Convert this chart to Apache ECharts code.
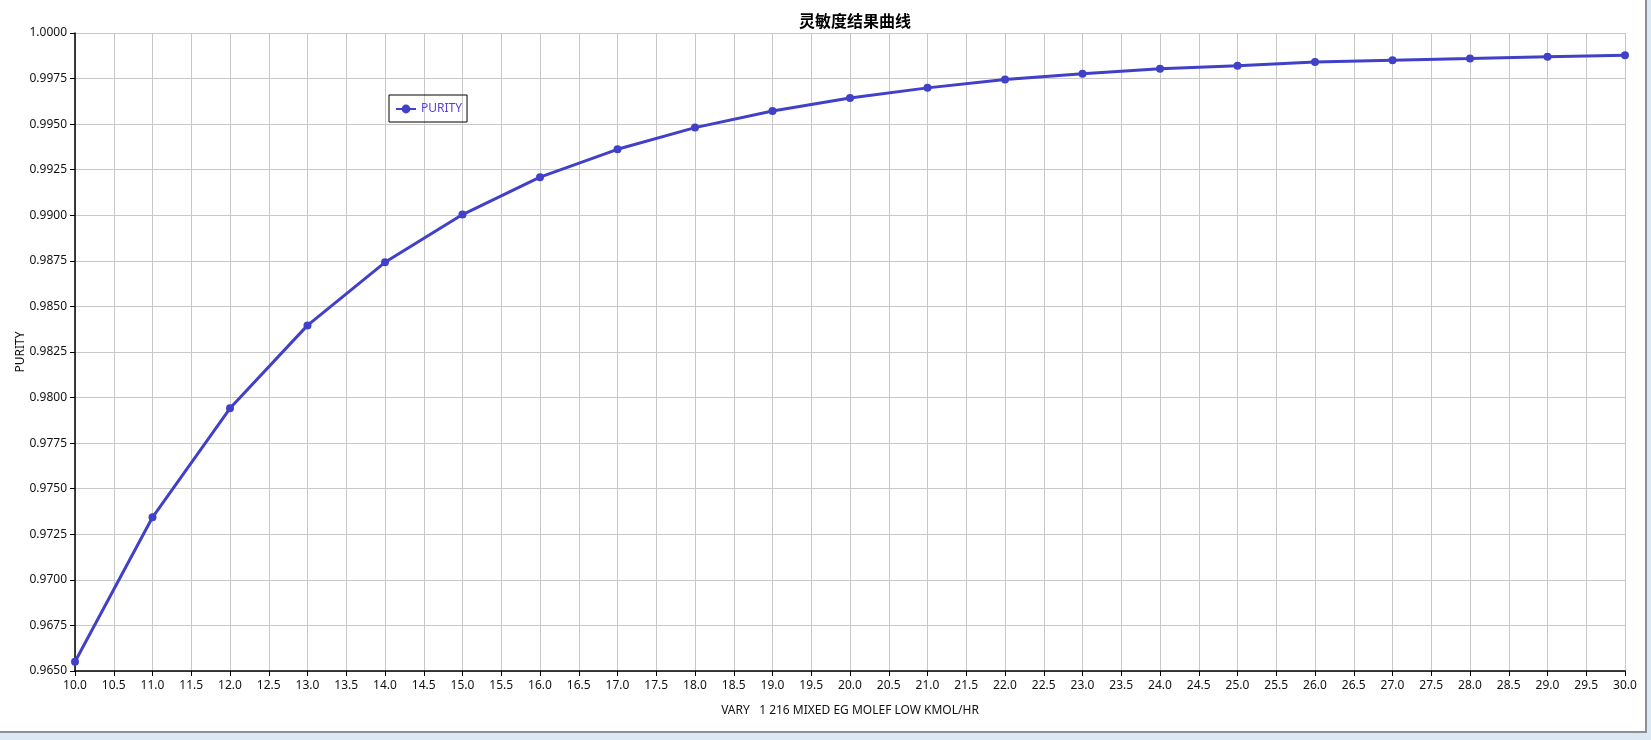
<!DOCTYPE html>
<html><head><meta charset="utf-8">
<script src="https://cdn.jsdelivr.net/npm/echarts@6/dist/echarts.min.js"></script>
<style>
html,body{margin:0;padding:0;background:#dce8f4;}
#wrap{width:1645px;height:731px;background:#fff;border-right:2px solid #8a9096;border-bottom:2px solid #8a9096;}
#c{width:1645px;height:731px;}
</style></head><body>
<div id="wrap"><div id="c"></div></div>
<script>
const title = '灵敏度结果曲线';
const seriesName = 'PURITY';
const xAxisName = 'VARY   1 216 MIXED EG MOLEF LOW KMOL/HR';
const yAxisName = 'PURITY';
const xValues = [10,11,12,13,14,15,16,17,18,19,20,21,22,23,24,25,26,27,28,29,30];
const purity = [0.96551,0.97343,0.97941,0.98396,0.98742,0.99004,0.99209,0.99362,0.99481,0.99572,0.99643,0.99699,0.99745,0.99777,0.99804,0.99821,0.99841,0.99851,0.99860,0.99870,0.99878];

const chart = echarts.init(document.getElementById('c'));
const font = '"Noto Sans","DejaVu Sans",sans-serif';
chart.setOption({
  animation:false,
  textStyle:{fontFamily:font},
  title:{text:title,left:850,textAlign:'center',top:8,textStyle:{fontSize:16,fontWeight:'bold',color:'#000',fontFamily:'"Noto Sans CJK SC",sans-serif'}},
  legend:{left:389,top:95,orient:'vertical',borderColor:'#000',borderWidth:1,padding:[8,5,7,6],
    itemWidth:20,itemHeight:11,itemGap:0,textStyle:{color:'#5a3fd0',fontSize:12,fontFamily:font},data:[seriesName]},
  grid:{left:75,right:20,top:33,bottom:60,containLabel:false},
  xAxis:{type:'value',min:10,max:30,interval:0.5,
    name:xAxisName,nameLocation:'middle',nameGap:34,nameMoveOverlap:false,nameTextStyle:{color:'#111',fontSize:12},
    axisLine:{onZero:false,lineStyle:{color:'#000',width:1.5}},
    axisTick:{show:true,length:5,lineStyle:{color:'#000'}},
    axisLabel:{color:'#111',fontSize:12,margin:9,formatter:v=>v.toFixed(1)},
    splitLine:{show:true,lineStyle:{color:'#c8c8c8',width:1}}},
  yAxis:{type:'value',min:0.965,max:1.0,interval:0.0025,
    name:yAxisName,nameLocation:'middle',nameGap:48,nameMoveOverlap:false,nameTextStyle:{color:'#111',fontSize:12},
    axisLine:{show:true,onZero:false,lineStyle:{color:'#000',width:1.5}},
    axisTick:{show:true,length:5,lineStyle:{color:'#000'}},
    axisLabel:{color:'#111',fontSize:12,margin:8,formatter:v=>v.toFixed(4)},
    splitLine:{show:true,lineStyle:{color:'#c8c8c8',width:1}}},
  series:[{name:seriesName,type:'line',data:xValues.map((x,i)=>[x,purity[i]]),
    symbol:'circle',symbolSize:8,showSymbol:true,clip:false,
    lineStyle:{color:'#4040c8',width:3},itemStyle:{color:'#4040c8'}}]
});
</script></body></html>
